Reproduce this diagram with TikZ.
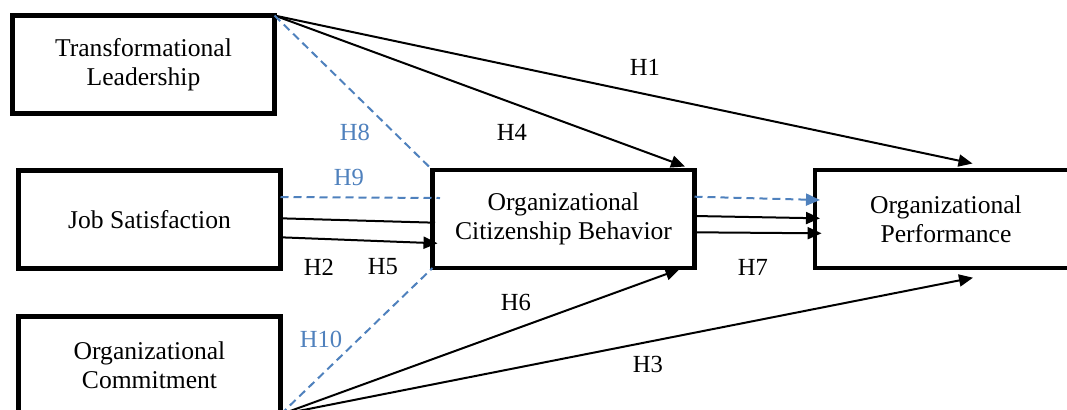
\documentclass[tikz,border=0pt]{standalone}
\usepackage{fontspec}
\setmainfont{Liberation Serif}
\usepackage{tikz}
\usetikzlibrary{arrows.meta}
\definecolor{hypblue}{RGB}{79,129,189}

\begin{document}
\begin{tikzpicture}[x=0.5pt,y=-0.5pt,
    construct/.style={draw,line width=2.25pt,outer sep=0pt,inner sep=2pt,minimum width=131pt,minimum height=49pt,align=center,font=\fontsize{12.8}{14.5}\selectfont},
    hyp/.style={font=\fontsize{12.3}{14}\selectfont,inner sep=1pt},
    mediated/.style={hyp,text=hypblue},
    direct/.style={line width=1pt,-{Triangle[length=7pt,width=6pt]}},
    link/.style={line width=1pt},
    indirect/.style={line width=1pt,hypblue,dash pattern=on 4pt off 2.5pt}]
    \useasboundingbox (0,0) rectangle (1067,409);
    \clip (0,0) rectangle (1067,409);

    \node[construct] (tl) at (143.5,64.5) {Transformational\\Leadership};
    \node[construct] (js) at (149.5,219.5) {Job Satisfaction};
    \node[construct] (oc) at (149.5,365.5) {Organizational\\Commitment};
    \node[construct] (ocb) at (563.5,219) {Organizational\\Citizenship Behavior};
    \node[construct] (op) at (946,219) {Organizational\\Performance};

    \draw[direct] (tl.north east) -- ([xshift=13.25pt,yshift=3.25pt]op.north);
    \draw[direct] (tl.north east) -- ([xshift=-4.75pt,yshift=1.75pt]ocb.north east);
    \draw[indirect] (tl.north east) -- (ocb.north west);
    \draw[indirect] ([yshift=11.25pt]js.east) -- ([xshift=3.75pt,yshift=10.5pt]ocb.west);
    \draw[link] ([yshift=0.6pt]js.east) -- ([xshift=1.25pt,yshift=-1.85pt]ocb.west);
    \draw[direct] ([yshift=-8.9pt]js.east) -- ([xshift=2.5pt,yshift=-12.15pt]ocb.west);
    \draw[indirect] (oc.south east) -- (ocb.south west);
    \draw[direct] (oc.south east) -- ([xshift=-7.5pt,yshift=-0.65pt]ocb.south east);
    \draw[direct] (oc.south east) -- ([xshift=13.5pt,yshift=-4.85pt]op.south);
    \draw[indirect,-{Triangle[length=7pt,width=6pt]}] ([yshift=11.15pt]ocb.east) -- ([xshift=2.5pt,yshift=9.5pt]op.west);
    \draw[direct] ([yshift=1.5pt]ocb.east) -- ([xshift=2.5pt,yshift=0.35pt]op.west);
    \draw[direct] ([yshift=-6.65pt]ocb.east) -- ([xshift=3.3pt,yshift=-7.15pt]op.west);

    \node[hyp] (h1) at (645,67) {H1};
    \node[hyp] (h2) at (319,267) {H2};
    \node[hyp] (h3) at (648,364) {H3};
    \node[hyp] (h4) at (512,132) {H4};
    \node[hyp] (h5) at (383,267) {H5};
    \node[hyp] (h6) at (516,302) {H6};
    \node[hyp] (h7) at (753,267) {H7};
    \node[mediated] (h8) at (355,132) {H8};
    \node[mediated] (h9) at (349,177) {H9};
    \node[mediated] (h10) at (321,339) {H10};
\end{tikzpicture}
\end{document}
